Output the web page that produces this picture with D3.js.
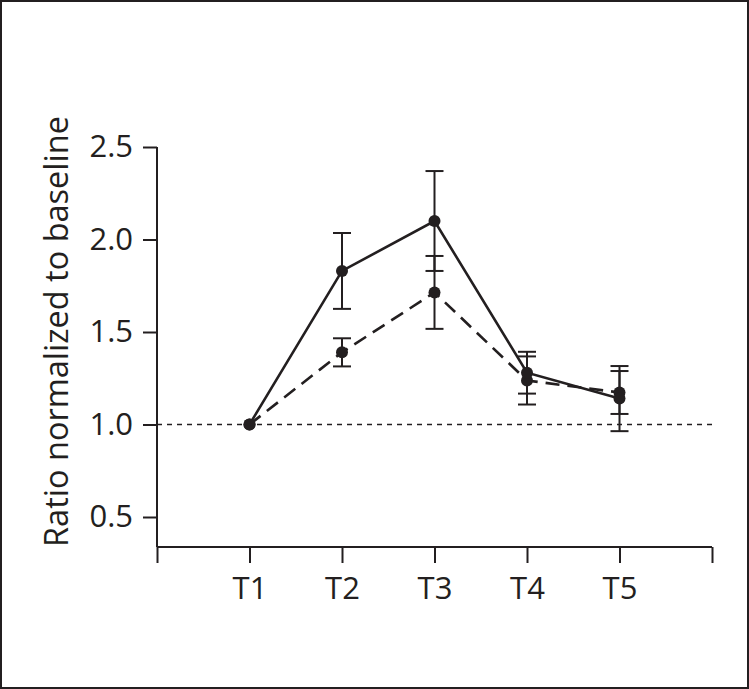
<!DOCTYPE html>
<html>
<head>
<meta charset="utf-8">
<script src="https://cdn.jsdelivr.net/npm/d3@7"></script>
<style>
  html, body { margin: 0; padding: 0; background: #fff; }
  svg { display: block; }
  text { font-family: "Open Sans", "Noto Sans", sans-serif; fill: #231f20; }
</style>
</head>
<body>
<svg id="chart" width="749" height="689"></svg>
<script>
// data
const timepoints = ["T1", "T2", "T3", "T4", "T5"];
const solidMean = [1.0, 1.83, 2.10, 1.28, 1.14];
const solidErr = [0, 0.205, 0.27, 0.113, 0.176];
const dashedMean = [1.0, 1.39, 1.714, 1.238, 1.173];
const dashedErr = [0, 0.076, 0.197, 0.13, 0.116];
const yTicks = [0.5, 1.0, 1.5, 2.0, 2.5];
const baseline = 1.0;

const ink = "#231f20";
const svg = d3.select("#chart");

// frame around the figure
svg.append("rect")
  .attr("x", 1).attr("y", 1)
  .attr("width", 747).attr("height", 687)
  .attr("fill", "none")
  .attr("stroke", ink)
  .attr("stroke-width", 2);

const x = d3.scaleLinear().domain([0, timepoints.length + 1]).range([157, 712]);
const y = d3.scaleLinear().domain([0.5, 2.5]).range([517, 147]);
const axisY = 547;

// y axis
const yAxis = svg.append("g")
  .attr("transform", `translate(${x(0)},0)`)
  .call(d3.axisLeft(y).tickValues(yTicks).tickFormat(d3.format(".1f"))
    .tickSize(14).tickSizeOuter(0).tickPadding(10));
yAxis.select(".domain").remove();
yAxis.append("line")
  .attr("x1", 0).attr("x2", 0)
  .attr("y1", y(2.5)).attr("y2", axisY)
  .attr("stroke", ink).attr("stroke-width", 2);

// x axis
const xLabels = ["", ...timepoints, ""];
const xAxis = svg.append("g")
  .attr("transform", `translate(0,${axisY})`)
  .call(d3.axisBottom(x).tickValues(d3.range(timepoints.length + 2))
    .tickFormat(i => xLabels[i]).tickSize(16).tickSizeOuter(0).tickPadding(14));

[yAxis, xAxis].forEach(g => {
  g.selectAll(".domain, line").attr("stroke", ink).attr("stroke-width", 2);
  g.selectAll("text").attr("fill", ink).style("font-size", "31px");
});
xAxis.select(".domain").attr("d", `M${x(0)},0H${x(timepoints.length + 1)}`);

// y axis title
svg.append("text")
  .attr("transform", `translate(68,${(115 + 548) / 2}) rotate(-90)`)
  .attr("text-anchor", "middle")
  .style("font-size", "32.5px")
  .text("Ratio normalized to baseline");

// dotted baseline at 1.0
svg.append("line")
  .attr("x1", x(0)).attr("x2", x(timepoints.length + 1))
  .attr("y1", y(baseline)).attr("y2", y(baseline))
  .attr("stroke", ink).attr("stroke-width", 1.6)
  .attr("stroke-dasharray", "5,5");

const series = [
  { mean: dashedMean, err: dashedErr, dash: "14,8" },
  { mean: solidMean, err: solidErr, dash: null }
];

const line = d3.line().x((d, i) => x(i + 1)).y(d => y(d));

series.forEach(s => {
  svg.append("path")
    .datum(s.mean)
    .attr("d", line)
    .attr("fill", "none")
    .attr("stroke", ink)
    .attr("stroke-width", 2.6)
    .attr("stroke-dasharray", s.dash);

  const eb = svg.append("g").attr("stroke", ink).attr("stroke-width", 2);
  s.mean.forEach((m, i) => {
    if (!s.err[i]) return;
    const cx = x(i + 1), hi = y(m + s.err[i]), lo = y(m - s.err[i]);
    eb.append("line").attr("x1", cx).attr("x2", cx).attr("y1", hi).attr("y2", lo);
    eb.append("line").attr("x1", cx - 9).attr("x2", cx + 9).attr("y1", hi).attr("y2", hi);
    eb.append("line").attr("x1", cx - 9).attr("x2", cx + 9).attr("y1", lo).attr("y2", lo);
  });

  svg.append("g").selectAll("circle")
    .data(s.mean)
    .join("circle")
    .attr("cx", (d, i) => x(i + 1))
    .attr("cy", d => y(d))
    .attr("r", 6)
    .attr("fill", ink);
});
</script>
</body>
</html>
